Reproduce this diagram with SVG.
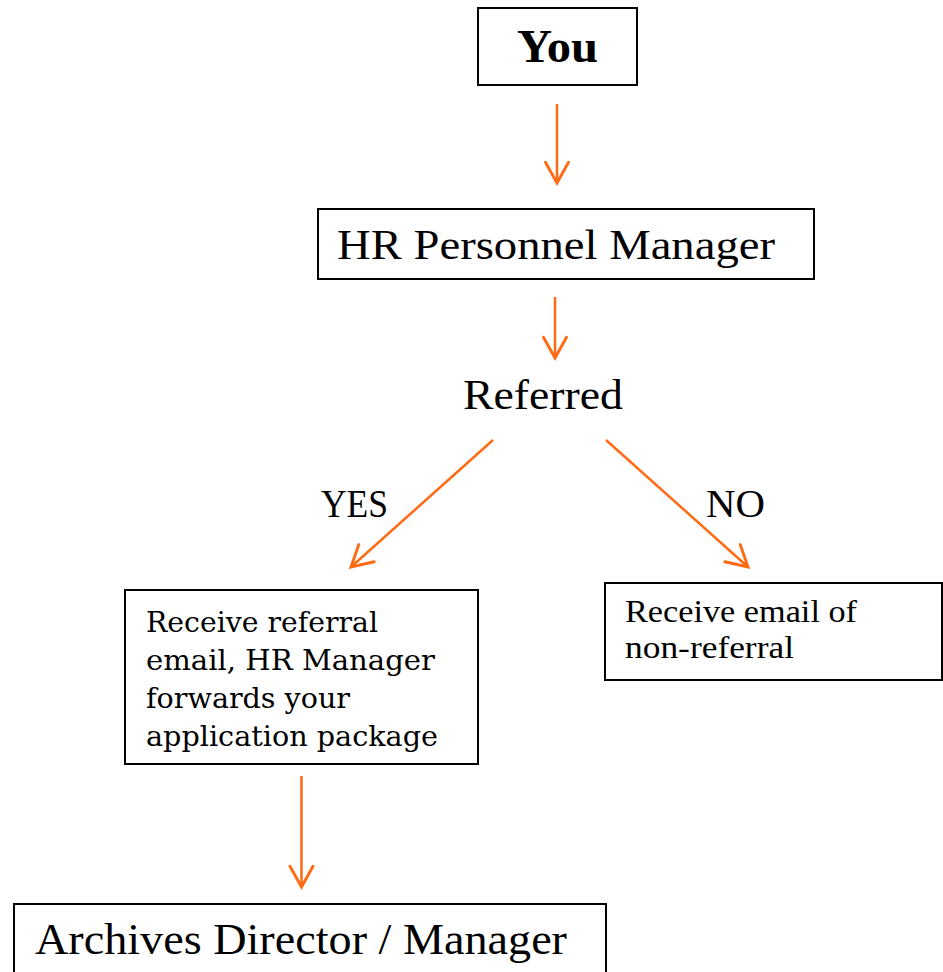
<svg xmlns="http://www.w3.org/2000/svg" width="943" height="972" viewBox="0 0 943 972">
  <style>
    .box { fill: #ffffff; stroke: #000000; stroke-width: 2; }
    .lbl { fill: #000000; }
    .body { fill: #000000; }
    .link { stroke: #ff6a13; stroke-width: 2.5; fill: none; marker-end: url(#head); }
  </style>
  <defs>
    <marker id="head" markerUnits="userSpaceOnUse" markerWidth="30" markerHeight="30" viewBox="-22 -13 26 26" refX="0" refY="0" orient="auto">
      <path d="M-18,-10 L0,0 L-18,10" fill="none" stroke="#ff6a13" stroke-width="2.5" stroke-linecap="round" stroke-linejoin="miter"/>
    </marker>
  </defs>
  <rect width="943" height="972" fill="#ffffff"/>

  <g id="you" font-family="Liberation Serif, serif">
    <rect class="box" x="478" y="8" width="159" height="77"/>
    <text class="lbl" x="517" y="62" font-size="46" font-weight="bold" textLength="81" lengthAdjust="spacingAndGlyphs">You</text>
  </g>

  <g id="hr-manager" font-family="Liberation Serif, serif">
    <rect class="box" x="318" y="209" width="496" height="70"/>
    <text class="lbl" x="337" y="259" font-size="43" textLength="438" lengthAdjust="spacingAndGlyphs">HR Personnel Manager</text>
  </g>

  <g id="referred" font-family="Liberation Serif, serif">
    <text class="lbl" x="463" y="409" font-size="42" textLength="160" lengthAdjust="spacingAndGlyphs">Referred</text>
  </g>

  <g id="referral-yes" font-family="DejaVu Serif, serif">
    <rect class="box" x="125" y="590" width="353" height="174"/>
    <text class="body" font-size="28">
      <tspan x="146" y="632" textLength="232" lengthAdjust="spacingAndGlyphs">Receive referral</tspan>
      <tspan x="146" y="670" textLength="289" lengthAdjust="spacingAndGlyphs">email, HR Manager</tspan>
      <tspan x="146" y="708" textLength="204" lengthAdjust="spacingAndGlyphs">forwards your</tspan>
      <tspan x="146" y="746" textLength="292" lengthAdjust="spacingAndGlyphs">application package</tspan>
    </text>
  </g>

  <g id="referral-no" font-family="Liberation Serif, serif">
    <rect class="box" x="605" y="583" width="337" height="97"/>
    <text class="lbl" font-size="31">
      <tspan x="625" y="622" textLength="232" lengthAdjust="spacingAndGlyphs">Receive email of</tspan>
      <tspan x="625" y="658" textLength="169" lengthAdjust="spacingAndGlyphs">non-referral</tspan>
    </text>
  </g>

  <g id="archives-director" font-family="Liberation Serif, serif">
    <rect class="box" x="14" y="904" width="592" height="100"/>
    <text class="lbl" x="35" y="954" font-size="44" textLength="532" lengthAdjust="spacingAndGlyphs">Archives Director / Manager</text>
  </g>

  <g id="connectors" font-family="Liberation Serif, serif">
    <line class="link" x1="557" y1="104" x2="557" y2="183"/>
    <line class="link" x1="555" y1="297" x2="555" y2="358"/>
    <line class="link" x1="493" y1="440" x2="351" y2="567"/>
    <line class="link" x1="606" y1="440" x2="748" y2="567"/>
    <line class="link" x1="301.5" y1="776" x2="301.5" y2="887"/>
    <text class="lbl" x="321" y="517" font-size="39" textLength="67" lengthAdjust="spacingAndGlyphs">YES</text>
    <text class="lbl" x="706" y="517" font-size="39" textLength="59" lengthAdjust="spacingAndGlyphs">NO</text>
  </g>
</svg>
